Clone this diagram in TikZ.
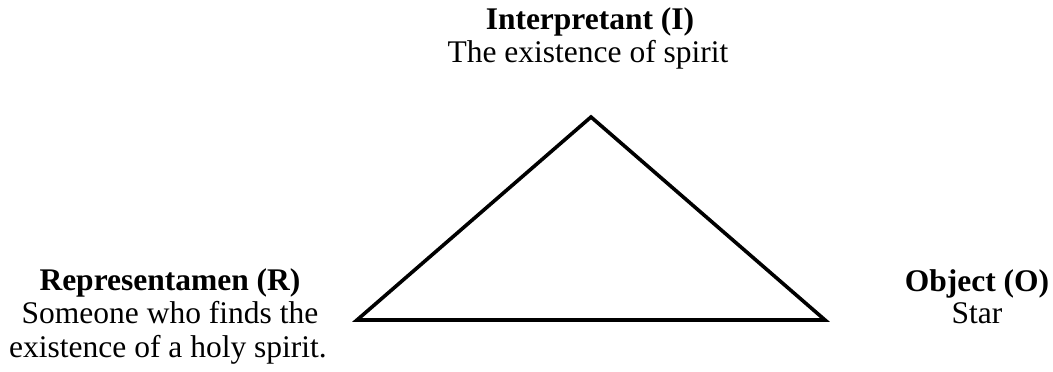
\documentclass[tikz,border=0pt]{standalone}
\usepackage{fontspec}
\setmainfont{Liberation Serif}
\begin{document}
\begin{tikzpicture}[x=1pt,y=-1pt,
  lbl/.style={anchor=base,inner sep=0pt,font=\fontsize{31.5}{34}\selectfont},
  ttl/.style={lbl,font=\fontsize{31.5}{34}\selectfont\bfseries},
  tri/.style={draw=black,line width=3.6pt,line join=miter}]
\useasboundingbox (0,0) rectangle (1053,372);
\node[ttl] (It) at (590,29) {Interpretant (I)};
\node[lbl] (Id) at (588,62) {The existence of spirit};
\node[ttl] (Rt) at (170,290) {Representamen (R)};
\node[lbl] (Rd1) at (170,323) {Someone who finds the};
\node[lbl] (Rd2) at (168,357) {existence of a holy spirit.};
\node[ttl] (Ot) at (977,291) {Object (O)};
\node[lbl] (Od) at (977,323) {Star};
\coordinate (A) at (591,117);
\coordinate (L) at (357,320);
\coordinate (R) at (825,320);
\draw[tri] (A) -- (R) -- (L) -- cycle;
\end{tikzpicture}
\end{document}
